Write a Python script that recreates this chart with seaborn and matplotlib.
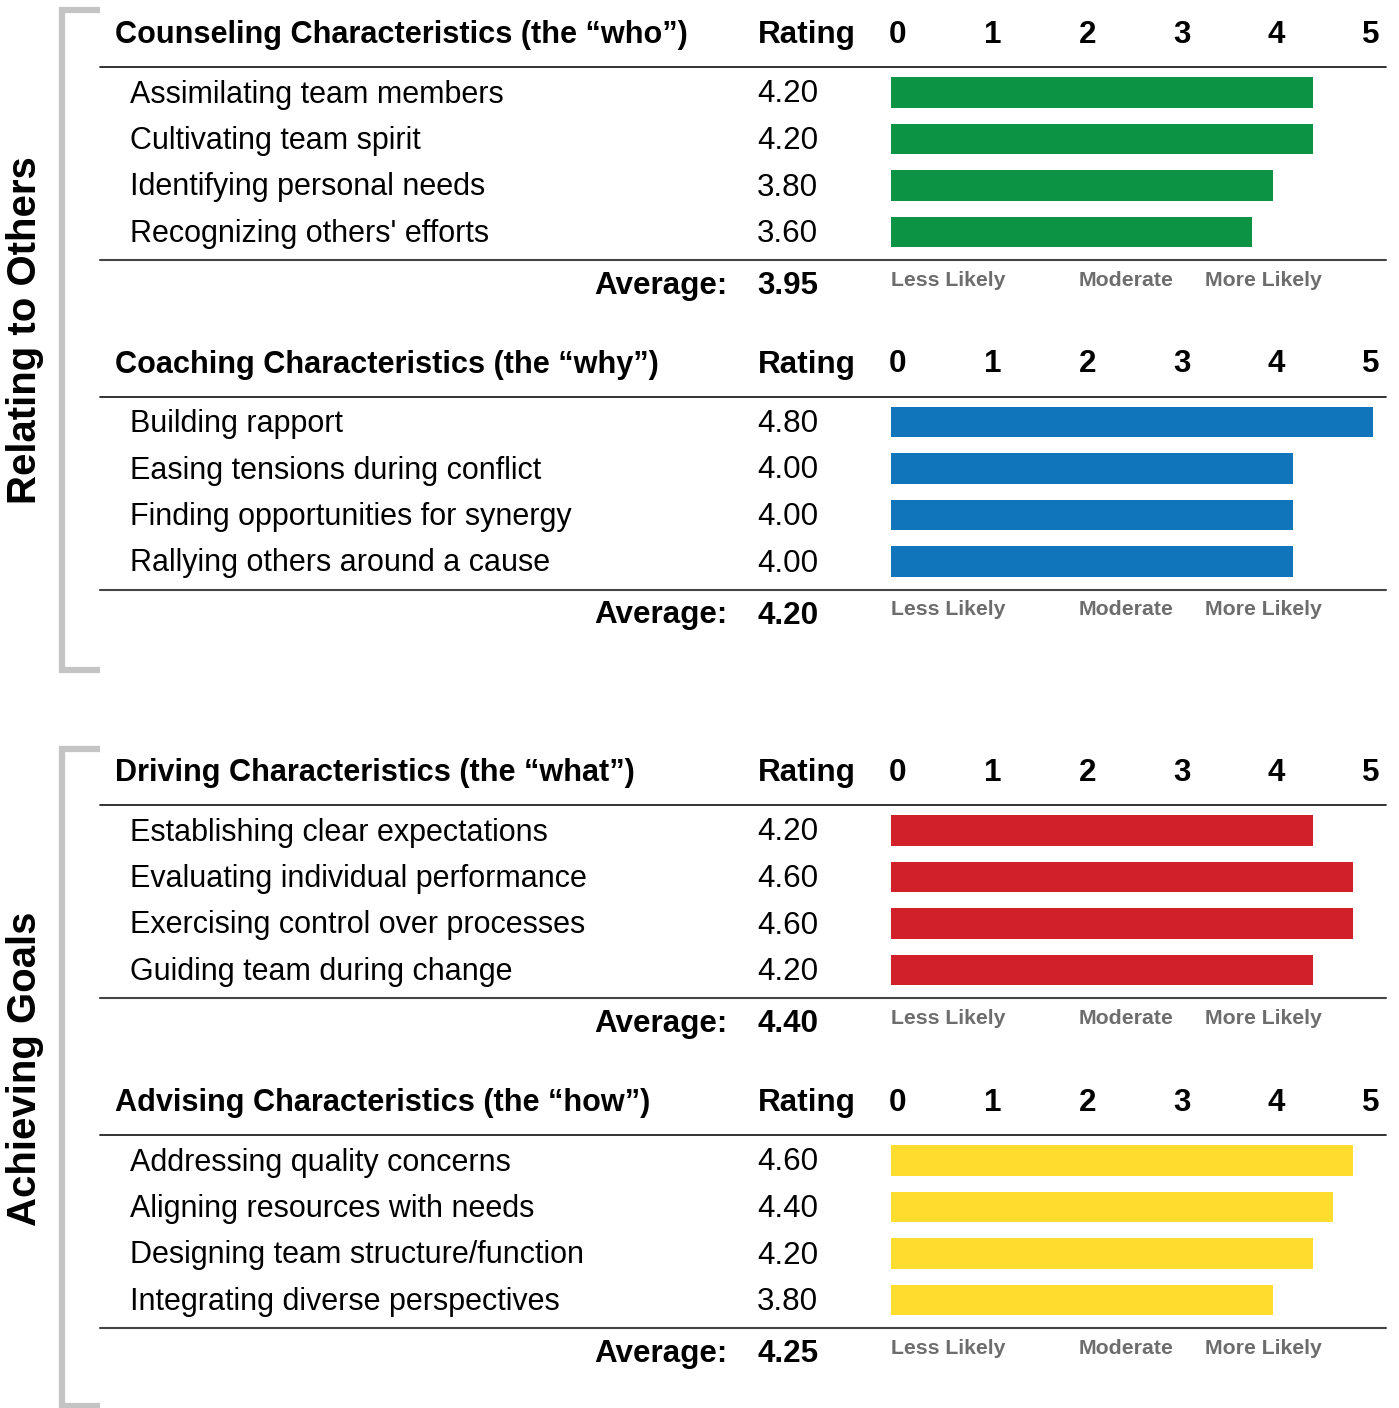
import matplotlib
matplotlib.use('Agg')
import matplotlib.pyplot as plt
import seaborn as sns

# Datos de cada bloque
titulos = ['Counseling Characteristics (the \u201cwho\u201d)',
           'Coaching Characteristics (the \u201cwhy\u201d)',
           'Driving Characteristics (the \u201cwhat\u201d)',
           'Advising Characteristics (the \u201chow\u201d)']

items_counseling = ['Assimilating team members', 'Cultivating team spirit',
                    'Identifying personal needs', "Recognizing others' efforts"]
items_coaching = ['Building rapport', 'Easing tensions during conflict',
                  'Finding opportunities for synergy', 'Rallying others around a cause']
items_driving = ['Establishing clear expectations', 'Evaluating individual performance',
                 'Exercising control over processes', 'Guiding team during change']
items_advising = ['Addressing quality concerns', 'Aligning resources with needs',
                  'Designing team structure/function', 'Integrating diverse perspectives']

rating_counseling = [4.20, 4.20, 3.80, 3.60]
rating_coaching = [4.80, 4.00, 4.00, 4.00]
rating_driving = [4.20, 4.60, 4.60, 4.20]
rating_advising = [4.60, 4.40, 4.20, 3.80]

promedios = [3.95, 4.20, 4.40, 4.25]
colores = ['#0c9444', '#1175bb', '#d2202a', '#ffdd2e']
escala = ['0', '1', '2', '3', '4', '5']
leyenda_escala = ['Less Likely', 'Moderate', 'More Likely']
grupos = ['Relating to Others', 'Achieving Goals']

items = [items_counseling, items_coaching, items_driving, items_advising]
ratings = [rating_counseling, rating_coaching, rating_driving, rating_advising]

W, H = 1399, 1408
sns.set_style('white')
plt.rcParams['font.family'] = ['Liberation Sans', 'DejaVu Sans']
plt.rcParams['text.color'] = 'black'

fig = plt.figure(figsize=(W / 100, H / 100), dpi=100)
fondo = fig.add_axes([0, 0, 1, 1])
fondo.set_xlim(0, W)
fondo.set_ylim(H, 0)
fondo.axis('off')

offsets = [0, 329.5, 738, 1068]
for k in range(4):
    dy = offsets[k]
    fondo.text(115, 35 + dy, titulos[k], fontsize=22.1, fontweight='bold', va='center', ha='left')
    fondo.text(758, 35 + dy, 'Rating', fontsize=22.6, fontweight='bold', va='center', ha='left')
    for i, t in enumerate(escala):
        fondo.text(898 + i * 94.6, 35 + dy, t, fontsize=22.6, fontweight='bold', va='center', ha='center')
    fondo.plot([100, 1386], [67 + dy, 67 + dy], color='#222222', lw=1.3)
    fondo.plot([100, 1386], [260 + dy, 260 + dy], color='#444444', lw=1.5)
    for i, (nombre, val) in enumerate(zip(items[k], ratings[k])):
        y = 94.5 + i * 46.5 + dy
        fondo.text(130, y, nombre, fontsize=22, va='center', ha='left')
        fondo.text(757, y, f'{val:.2f}', fontsize=22.6, va='center', ha='left')
    fondo.text(727, 286 + dy, 'Average:', fontsize=22.6, fontweight='bold', va='center', ha='right')
    fondo.text(757, 286 + dy, f'{promedios[k]:.2f}', fontsize=22.6, fontweight='bold', va='center', ha='left')
    for x, t in zip([891, 1079, 1205], leyenda_escala):
        fondo.text(x, 280 + dy, t, fontsize=15.3, fontweight='bold', color='#6d6d6d', va='center', ha='left')

    # barras
    top = 69.25 + dy
    alto = 4 * 46.5
    ax = fig.add_axes([891 / W, 1 - (top + alto) / H, 502 / W, alto / H])
    sns.barplot(x=ratings[k], y=items[k], ax=ax, color=colores[k], orient='h',
                width=0.65, saturation=1, linewidth=0)
    ax.set_xlim(0, 5)
    ax.set_ylim(3.5, -0.5)
    ax.axis('off')

# corchetes de grupo
gris = '#c4c4c4'
for (y0, y1), yc, g in zip([(10, 670), (749, 1406)], [330, 1069], grupos):
    fondo.plot([100, 61.5, 61.5, 100], [y0, y0, y1, y1], color=gris, lw=4.5,
               solid_joinstyle='miter', solid_capstyle='butt')
    fondo.text(25, yc, g, fontsize=28.9, fontweight='bold', rotation=90,
               va='center', ha='center')

fig.savefig('out.png', dpi=100)
